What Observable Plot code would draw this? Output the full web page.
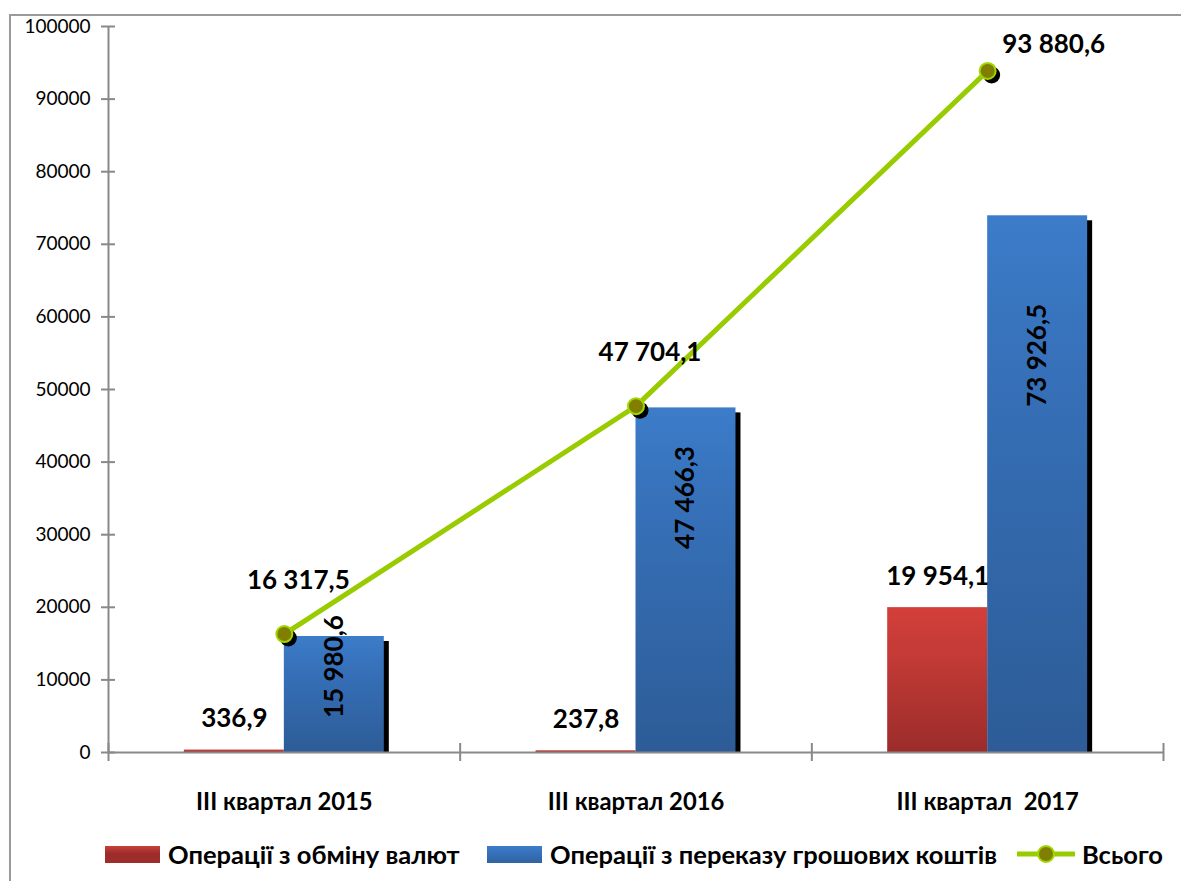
<!DOCTYPE html>
<html><head><meta charset="utf-8">
<script src="https://cdn.jsdelivr.net/npm/d3@7"></script>
<script src="https://cdn.jsdelivr.net/npm/@observablehq/plot@0.6"></script>
<style>
body{margin:0;background:#fff;font-family:Lato,"Open Sans",sans-serif;}
#wrap{position:relative;width:1181px;height:881px;overflow:hidden;background:#fff;}
#frame{position:absolute;left:9px;top:14px;width:1300px;height:1000px;border-left:2px solid #9a9a9a;border-top:2px solid #9a9a9a;}
#chart{position:absolute;left:0;top:0;}
#chart svg text{white-space:pre;}
.item{position:absolute;top:841px;height:26px;display:flex;align-items:center;font-weight:bold;font-size:25.5px;color:#000;white-space:nowrap;}
.sw{width:55px;height:17px;margin-right:8px;}
</style></head>
<body><div id="wrap"><div id="frame"></div><div id="chart"></div><div id="legend"></div></div>
<script>
// ---- data ----
const quarters = ["III квартал 2015", "III квартал 2016", "III квартал  2017"];
const exchange = [336.9, 237.8, 19954.1];      // Операції з обміну валют
const transfer = [15980.6, 47466.3, 73926.5];  // Операції з переказу грошових коштів
const total = [16317.5, 47704.1, 93880.6];     // Всього
const yTicks = [0, 10000, 20000, 30000, 40000, 50000, 60000, 70000, 80000, 90000, 100000];
const seriesNames = ["Операції з обміну валют", "Операції з переказу грошових коштів", "Всього"];

// ---- build ----
const rows = quarters.map((q, i) => ({q, c: i + 0.5, exchange: exchange[i], transfer: transfer[i], total: total[i], i}));
const w = 0.2843; // bar width in group units
const fmt = d3.formatLocale({decimal: ",", thousands: " ", grouping: [3]}).format(",.1f");
const gray = "#898989";
const font = "Lato, 'Open Sans', sans-serif";

const plot = Plot.plot({
  width: 1181, height: 820,
  marginLeft: 108, marginRight: 18, marginTop: 26, marginBottom: 68,
  style: {fontFamily: font, overflow: "visible", background: "transparent"},
  x: {type: "linear", domain: [0, 3], label: null},
  y: {domain: [0, 100000], label: null},
  marks: [
    Plot.rectY(rows, {x1: d => d.c, x2: d => d.c + w, y1: 0, y2: "transfer", fill: "black", dx: 5, dy: 5, insetBottom: 5}),
    Plot.rectY(rows, {x1: d => d.c - w, x2: d => d.c, y1: 0, y2: "exchange", fill: "url(#gRed)"}),
    Plot.rectY(rows, {x1: d => d.c, x2: d => d.c + w, y1: 0, y2: "transfer", fill: "url(#gBlue)"}),
    Plot.ruleY([0], {x1: 0, x2: 3, stroke: gray, strokeWidth: 2}),
    Plot.ruleX([0], {y1: 0, y2: 100000, stroke: gray, strokeWidth: 2}),
    Plot.axisY({ticks: yTicks, tickSize: 14, dx: 7, tickFormat: () => "", label: null, stroke: gray, strokeWidth: 2, strokeOpacity: 1}),
    Plot.axisY({ticks: yTicks, tickSize: 0, tickPadding: 18, tickFormat: d3.format("d"), label: null, fontSize: 19, fill: "black"}),
    Plot.axisX({ticks: [0, 1, 2, 3], tickSize: 18, dy: -9, tickFormat: () => "", label: null, stroke: gray, strokeWidth: 2, strokeOpacity: 1}),
    Plot.line(rows, {x: "c", y: "total", stroke: "#99cc00", strokeWidth: 5}),
    Plot.dot(rows, {x: "c", y: "total", r: 8.5, fill: "black", dx: 4, dy: 4}),
    Plot.dot(rows, {x: "c", y: "total", r: 8, fill: "#807f00", stroke: "#a2d600", strokeWidth: 2}),
    Plot.text(rows, {x: d => d.c - w / 2, y: "exchange", dy: -31, text: d => fmt(d.exchange), fontSize: 26, fontWeight: "bold", fill: "black"}),
    Plot.text(rows, {x: d => d.c + w / 2, y: d => d.transfer * 0.74, text: d => fmt(d.transfer), rotate: -90, fontSize: 26, fontWeight: "bold", fill: "black"}),
    Plot.text(rows.filter(d => d.i < 2), {x: "c", y: "total", dx: 14, dy: -53, text: d => fmt(d.total), fontSize: 26, fontWeight: "bold", fill: "black"}),
    Plot.text(rows.filter(d => d.i === 2), {x: "c", y: "total", dx: 66, dy: -26, text: d => fmt(d.total), fontSize: 26, fontWeight: "bold", fill: "black"}),
    Plot.text(rows, {x: "c", y: 0, dy: 50, text: "q", fontSize: 23.8, fontWeight: "bold", fill: "black"})
  ]
});

const defs = d3.select(plot).insert("defs", ":first-child");
const gR = defs.append("linearGradient").attr("id", "gRed").attr("x1", 0).attr("y1", 0).attr("x2", 0).attr("y2", 1);
gR.append("stop").attr("offset", "0%").attr("stop-color", "#d33f3a");
gR.append("stop").attr("offset", "35%").attr("stop-color", "#c23a36");
gR.append("stop").attr("offset", "100%").attr("stop-color", "#9b2c2a");
const gB = defs.append("linearGradient").attr("id", "gBlue").attr("x1", 0).attr("y1", 0).attr("x2", 0).attr("y2", 1);
gB.append("stop").attr("offset", "0%").attr("stop-color", "#3c7cc9");
gB.append("stop").attr("offset", "30%").attr("stop-color", "#3670b8");
gB.append("stop").attr("offset", "100%").attr("stop-color", "#2d5c97");
document.getElementById("chart").append(plot);

// ---- legend ----
const leg = document.getElementById("legend");
const items = [
  {left: 105, name: seriesNames[0], sw: "linear-gradient(#c9403b, #9b2c2a 45%, #a02e2b)"},
  {left: 487, name: seriesNames[1], sw: "linear-gradient(#3c7cc9, #2f63a3)"},
  {left: 1017, name: seriesNames[2], line: true}
];
for (const it of items) {
  const d = document.createElement("div");
  d.className = "item";
  d.style.left = it.left + "px";
  if (it.line) {
    d.innerHTML = `<svg width="58" height="22" style="margin-right:7px"><line x1="0" y1="11" x2="58" y2="11" stroke="#99cc00" stroke-width="5"/><circle cx="29" cy="11" r="8" fill="#807f00" stroke="#a2d600" stroke-width="2"/></svg>`;
  } else {
    d.innerHTML = `<div class="sw" style="background:${it.sw}"></div>`;
  }
  const t = document.createElement("span");
  t.textContent = it.name;
  d.append(t);
  leg.append(d);
}
</script>
</body></html>
